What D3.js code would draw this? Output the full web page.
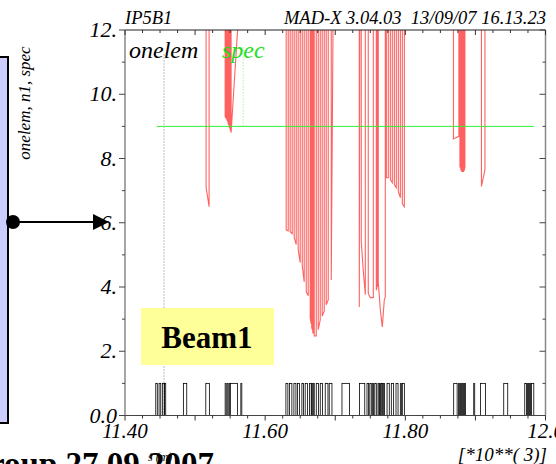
<!DOCTYPE html>
<html>
<head>
<meta charset="utf-8">
<script src="https://cdn.jsdelivr.net/npm/d3@7"></script>
<style>
  body { margin: 0; background: #fff; }
  svg { display: block; }
  text { font-family: "Liberation Serif", "DejaVu Serif", serif; white-space: pre; }
</style>
</head>
<body>
<svg width="556" height="464"></svg>
<script>
// x in km (s * 10**-3), y in sigma
const xTickLabels = ['11.40', '11.60', '11.80', '12.0'];
const xTickValues = [11.4, 11.6, 11.8, 12.0];
const yTickLabels = ['0.0', '2.', '4.', '6.', '8.', '10.', '12.'];
const yTickValues = [0, 2, 4, 6, 8, 10, 12];

// element boxes [start, end], height 1
const elementBoxes = [
    [11.4439, 11.4461], [11.4486, 11.451], [11.4533, 11.4561], [11.4561, 11.4581],
    [11.4833, 11.4881], [11.5153, 11.5204],
    [11.5429, 11.5443], [11.5457, 11.5471], [11.5486, 11.55], [11.55, 11.5604],
    [11.5653, 11.5667],
    [11.6296, 11.6324], [11.6347, 11.6381], [11.641, 11.6439], [11.6461, 11.649],
    [11.6524, 11.6547], [11.6571, 11.6604], [11.6633, 11.6657], [11.6664, 11.6679],
    [11.6686, 11.67], [11.6729, 11.6761], [11.6786, 11.6819], [11.6857, 11.6896],
    [11.6914, 11.6953],
    [11.7096, 11.7203], [11.7347, 11.7421],
    [11.7453, 11.7476], [11.7493, 11.7514], [11.7529, 11.7547], [11.7564, 11.7586],
    [11.761, 11.7624], [11.7633, 11.7647], [11.7657, 11.7676], [11.7686, 11.7704],
    [11.7739, 11.7771], [11.78, 11.7833], [11.7867, 11.7896], [11.7929, 11.7943],
    [11.7957, 11.7986],
    [11.869, 11.8739], [11.8757, 11.8771], [11.8786, 11.88], [11.8814, 11.8829],
    [11.8843, 11.8857], [11.8976, 11.899], [11.9071, 11.9143], [11.9404, 11.9461],
    [11.9704, 11.9729], [11.9743, 11.9757], [11.9771, 11.9786], [11.98, 11.9833]
];

// n1 traces [s, n1], 13 = off scale
const n1Seg1 = [[11.5157, 13], [11.5157, 7.1], [11.52, 6.5], [11.52, 13]];
const n1Seg2 = [
    [11.5429, 13], [11.5429, 9.3], [11.5436, 9.28], [11.5436, 13],
    [11.5443, 13], [11.5443, 9.25], [11.545, 9.22], [11.545, 13],
    [11.5457, 13], [11.5457, 9.2], [11.5464, 9.15], [11.5464, 13],
    [11.5471, 13], [11.5471, 9.1], [11.5479, 9.05], [11.5479, 13],
    [11.5486, 13], [11.5486, 9.0], [11.5493, 8.95], [11.5493, 13],
    [11.55, 13], [11.55, 8.9], [11.5507, 8.85], [11.5507, 13],
    [11.5514, 13], [11.5514, 8.8], [11.5621, 12.5]
];
const n1Seg3 = [
    [11.63, 13], [11.63, 5.78], [11.6329, 5.75], [11.6329, 13],
    [11.6357, 13], [11.6357, 5.72], [11.6386, 5.66], [11.6386, 13],
    [11.6414, 13], [11.6414, 5.54], [11.6443, 5.32], [11.6443, 13],
    [11.6471, 13], [11.6471, 5.16], [11.65, 4.76], [11.65, 13],
    [11.6529, 13], [11.6529, 4.66], [11.6557, 4.16], [11.6557, 13],
    [11.6586, 13], [11.6586, 3.85], [11.6614, 3.73], [11.6614, 13],
    [11.6643, 13], [11.6643, 3.04], [11.6657, 2.85], [11.6657, 13],
    [11.6664, 13], [11.6664, 2.75], [11.6671, 2.67], [11.6671, 13],
    [11.6679, 13], [11.6679, 2.6], [11.6686, 2.55], [11.6686, 13],
    [11.67, 13], [11.67, 2.48], [11.6729, 2.48], [11.6729, 13],
    [11.6757, 13], [11.6757, 2.67], [11.6786, 2.98], [11.6786, 13],
    [11.6814, 13], [11.6814, 3.1], [11.6843, 3.25], [11.6843, 13],
    [11.6871, 13], [11.6871, 3.45], [11.69, 3.6], [11.69, 13],
    [11.6943, 13], [11.6943, 4.22], [11.6971, 13]
];
const n1Seg4 = [
    [11.7343, 13], [11.7343, 3.38], [11.735, 13],
    [11.7371, 13], [11.7371, 5.42], [11.74, 4.5], [11.7429, 3.76], [11.7429, 13],
    [11.7471, 13], [11.7471, 3.8], [11.75, 3.67], [11.7543, 3.67], [11.7543, 13],
    [11.7586, 13], [11.7586, 3.9], [11.7593, 3.95], [11.7593, 13],
    [11.76, 13], [11.76, 4.0], [11.7607, 4.1], [11.7607, 13],
    [11.7614, 13], [11.7614, 4.16], [11.7643, 3.29], [11.7671, 2.76], [11.77, 3.6], [11.7714, 3.7], [11.7714, 13],
    [11.7729, 13], [11.7729, 7.4], [11.7757, 7.4], [11.7757, 13],
    [11.7786, 13], [11.7786, 7.34], [11.7814, 7.25], [11.7814, 13],
    [11.7843, 13], [11.7843, 7.19], [11.7871, 7.09], [11.7871, 13],
    [11.79, 13], [11.79, 6.97], [11.7929, 6.78], [11.7929, 13],
    [11.7957, 13], [11.7957, 6.6], [11.7986, 6.5], [11.7986, 13]
];
const n1Seg5 = [
    [11.8686, 13], [11.8686, 8.61], [11.8764, 8.69], [11.8764, 13],
    [11.8779, 13], [11.8779, 7.75], [11.8786, 7.7], [11.8786, 13],
    [11.8793, 13], [11.8793, 7.65], [11.88, 7.62], [11.88, 13],
    [11.8807, 13], [11.8807, 7.6], [11.8814, 7.6], [11.8814, 13],
    [11.8821, 13], [11.8821, 7.6], [11.8829, 7.6], [11.8829, 13],
    [11.8836, 13], [11.8836, 7.62], [11.8843, 7.65], [11.8843, 13],
    [11.885, 13], [11.885, 7.7]
];
const n1Seg6 = [[11.9086, 13], [11.9086, 7.13], [11.9136, 7.65], [11.9136, 13]];
const n1Segments = [n1Seg1, n1Seg2, n1Seg3, n1Seg4, n1Seg5, n1Seg6];

const specLine = [[11.4453, 9], [11.9833, 9]];
const ipMarker = [[11.4557, 0], [11.4557, 11.3]];
const specMarker = [[11.5686, 9], [11.5686, 11.5]];

const svg = d3.select('svg');

const x = d3.scaleLinear().domain([11.4, 12.0]).range([125, 545.5]);
const y = d3.scaleLinear().domain([0, 12]).range([415.5, 30]);

// left panel bits
svg.append('rect')
    .attr('x', -4).attr('y', 57)
    .attr('width', 12).attr('height', 366)
    .style('fill', '#ccccff')
    .style('stroke', '#000')
    .style('stroke-width', 2);

svg.append('text')
    .attr('transform', 'translate(30,103) rotate(-90)')
    .style('text-anchor', 'middle')
    .style('font-style', 'italic')
    .style('font-size', '17px')
    .text('onelem, n1, spec');

svg.append('defs').append('clipPath').attr('id', 'plot')
    .append('rect')
    .attr('x', x(11.4)).attr('y', y(12))
    .attr('width', x(12) - x(11.4)).attr('height', y(0) - y(12));

const plot = svg.append('g').attr('clip-path', 'url(#plot)');

const line = d3.line().x(d => x(d[0])).y(d => y(d[1]));

// dotted markers
plot.append('path')
    .attr('d', line(ipMarker))
    .style('stroke', '#777')
    .style('stroke-width', 1)
    .style('stroke-dasharray', '1,2')
    .style('fill', 'none');

plot.append('path')
    .attr('d', line(specMarker))
    .style('stroke', '#7ee87e')
    .style('stroke-width', 1)
    .style('stroke-dasharray', '1,2')
    .style('fill', 'none');

// n1 traces
plot.selectAll('.n1')
    .data(n1Segments)
    .enter()
    .append('path')
    .attr('class', 'n1')
    .attr('d', line)
    .style('stroke', '#ff0000')
    .style('stroke-opacity', 0.62)
    .style('stroke-width', 1.1)
    .style('fill', 'none');

// spec line
plot.append('path')
    .attr('d', line(specLine))
    .style('stroke', '#33ee33')
    .style('stroke-width', 1)
    .style('fill', 'none');

// element boxes
plot.selectAll('.elem')
    .data(elementBoxes)
    .enter()
    .append('rect')
    .attr('class', 'elem')
    .attr('x', d => x(d[0]))
    .attr('y', y(1))
    .attr('width', d => x(d[1]) - x(d[0]))
    .attr('height', y(0) - y(1))
    .style('fill', 'none')
    .style('stroke', '#000')
    .style('stroke-width', 0.8);

// frame
const frame = svg.append('g');
frame.append('line')
    .attr('x1', x(11.4)).attr('x2', x(12)).attr('y1', y(12)).attr('y2', y(12))
    .style('stroke', '#222').style('stroke-width', 1.2);
frame.append('line')
    .attr('x1', x(11.4)).attr('x2', x(12)).attr('y1', y(0)).attr('y2', y(0))
    .style('stroke', '#444').style('stroke-width', 1.2);
frame.append('line')
    .attr('x1', x(11.4)).attr('x2', x(11.4)).attr('y1', y(0)).attr('y2', y(12))
    .style('stroke', '#888').style('stroke-width', 1.5);
frame.append('line')
    .attr('x1', x(12)).attr('x2', x(12)).attr('y1', y(0)).attr('y2', y(12))
    .style('stroke', '#888').style('stroke-width', 1.5);

// ticks
const xMinor = d3.range(11.4, 12.0001, 0.025);
frame.selectAll('.xtb')
    .data(xMinor)
    .enter()
    .append('line')
    .attr('x1', d => x(d)).attr('x2', d => x(d))
    .attr('y1', y(0)).attr('y2', (d, i) => y(0) + (i % 4 === 0 ? 5 : 3))
    .style('stroke', '#333');
frame.selectAll('.xtt')
    .data(xMinor)
    .enter()
    .append('line')
    .attr('x1', d => x(d)).attr('x2', d => x(d))
    .attr('y1', y(12)).attr('y2', (d, i) => y(12) + (i % 4 === 0 ? 5 : 3))
    .style('stroke', '#333');

const yMinor = d3.range(0, 12.001, 1);
frame.selectAll('.ytl')
    .data(yMinor)
    .enter()
    .append('line')
    .attr('y1', d => y(d)).attr('y2', d => y(d))
    .attr('x1', x(11.4)).attr('x2', (d, i) => x(11.4) - (i % 2 === 0 ? 6 : 3))
    .style('stroke', '#444');
frame.selectAll('.ytr')
    .data(yMinor)
    .enter()
    .append('line')
    .attr('y1', d => y(d)).attr('y2', d => y(d))
    .attr('x1', x(12)).attr('x2', (d, i) => x(12) - (i % 2 === 0 ? 6 : 3))
    .style('stroke', '#444');

// tick labels
frame.selectAll('.xl')
    .data(xTickValues)
    .enter()
    .append('text')
    .attr('x', d => x(d))
    .attr('y', 438)
    .style('text-anchor', 'middle')
    .style('font-style', 'italic')
    .style('font-size', '21px')
    .text((d, i) => xTickLabels[i]);

frame.selectAll('.yl')
    .data(yTickValues)
    .enter()
    .append('text')
    .attr('x', 117)
    .attr('y', d => y(d) + 7)
    .style('text-anchor', 'end')
    .style('font-style', 'italic')
    .style('font-size', '22px')
    .text((d, i) => yTickLabels[i]);

// header
svg.append('text')
    .attr('x', 125).attr('y', 24)
    .style('font-style', 'italic').style('font-size', '18.5px')
    .text('IP5B1');
svg.append('text')
    .attr('x', 546).attr('y', 24)
    .style('text-anchor', 'end')
    .style('font-style', 'italic').style('font-size', '18.5px')
    .text('MAD-X 3.04.03  13/09/07 16.13.23');

// legend
svg.append('text')
    .attr('x', 129).attr('y', 58)
    .style('font-style', 'italic').style('font-size', '24px')
    .text('onelem');
svg.append('text')
    .attr('x', 222).attr('y', 58)
    .style('font-style', 'italic').style('font-size', '24px')
    .style('fill', '#22dd22')
    .text('spec');

// Beam1 label
svg.append('rect')
    .attr('x', 141).attr('y', 308)
    .attr('width', 133).attr('height', 57)
    .style('fill', '#ffff99');
svg.append('text')
    .attr('x', 207).attr('y', 348)
    .style('text-anchor', 'middle')
    .style('font-weight', 'bold').style('font-size', '31px')
    .text('Beam1');

// arrow into the plot
svg.append('line')
    .attr('x1', 13).attr('x2', 96).attr('y1', 222).attr('y2', 222)
    .style('stroke', '#000').style('stroke-width', 2);
svg.append('circle')
    .attr('cx', 13).attr('cy', 222).attr('r', 7)
    .style('fill', '#000');
svg.append('path')
    .attr('d', 'M93,214 L109,222 L93,230 Z')
    .style('fill', '#000');

// axis notes
svg.append('text')
    .attr('x', 148).attr('y', 461)
    .style('font-style', 'italic').style('font-size', '12px')
    .text('s (m)');
svg.append('text')
    .attr('x', 547).attr('y', 461)
    .style('text-anchor', 'end')
    .style('font-style', 'italic').style('font-size', '19px')
    .text('[*10**( 3)]');

svg.append('text')
    .attr('x', 214).attr('y', 475)
    .style('text-anchor', 'end')
    .style('font-weight', 'bold').style('font-size', '33px')
    .text('Group 27.09.2007');
</script>
</body>
</html>
